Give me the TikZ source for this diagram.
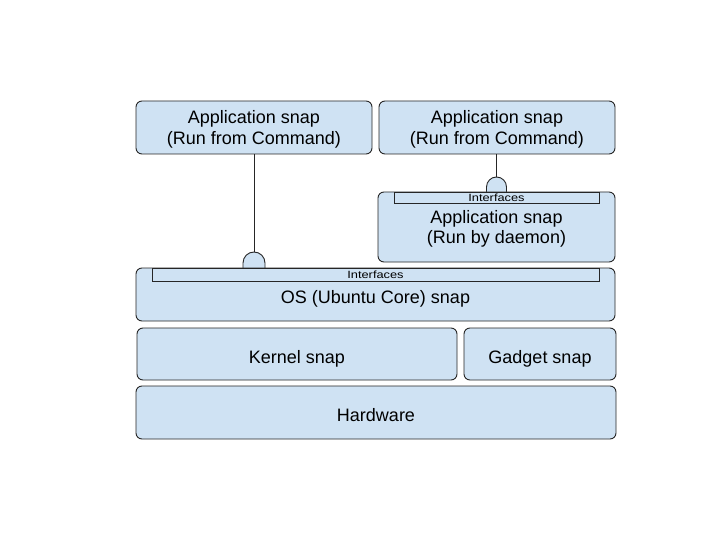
\documentclass[tikz,border=0pt]{standalone}
\usepackage{fontspec}
\setmainfont{Liberation Sans}
\newfontfamily\barfont[FakeStretch=1.22]{Liberation Sans}
\usetikzlibrary{calc}

\definecolor{snapblue}{HTML}{CFE2F3}

\tikzset{
	snapbox/.style={draw=black!85, fill=snapblue, line width=0.9pt, rounded corners=6pt,
		align=center, inner sep=0pt, font=\fontsize{18}{20.5}\selectfont,
		text height=18.4pt, text depth=0pt},
	twoline/.style={text height=33.6pt, text depth=0pt},
	ifbar/.style={draw=black!85, fill=snapblue, line width=0.9pt, inner sep=0pt,
		font=\barfont\fontsize{10.5}{11}\selectfont},
	plug/.style={draw=black!85, fill=snapblue, line width=0.9pt},
	wire/.style={draw=black!85, line width=0.9pt}
}

\begin{document}
\begin{tikzpicture}[x=1pt,y=1pt]
	\useasboundingbox (0,0) rectangle (720,-540);
	% top row
	\node [snapbox, twoline, minimum width=236, minimum height=53] (app1) at (254,-127.5) {Application snap\\(Run from Command)};
	\node [snapbox, twoline, minimum width=236, minimum height=53] (app2) at (497,-127.5) {Application snap\\(Run from Command)};
	% plugs
	\coordinate (osplug) at (254,-268);
	\coordinate (dplug) at (496.5,-192);
	\draw [plug] ($(osplug)+(-11,0)$) -- ++(0,5) arc (180:0:11) -- ++(0,-5);
	\draw [plug] ($(dplug)+(-10,0)$) -- ++(0,5) arc (180:0:10) -- ++(0,-5);
	\coordinate (ostop) at ($(osplug)+(0,16)$);
	\coordinate (dtop) at ($(dplug)+(0,15)$);
	\draw [wire] (app1.south) -- (ostop);
	\draw [wire] (app2.south -| dtop) -- (dtop);
	% daemon
	\node [snapbox, twoline, minimum width=237, minimum height=70] (daemon) at (496.5,-227) {Application snap\\(Run by daemon)};
	\node [ifbar, minimum width=205, minimum height=11, anchor=north] (dbar) at (daemon.north) {Interfaces};
	% os
	\node [snapbox, minimum width=479, minimum height=53] (os) at (375.5,-294.5) {OS (Ubuntu Core) snap};
	\node [ifbar, minimum width=447, minimum height=13, anchor=north] (osbar) at (os.north) {Interfaces};
	% bottom rows
	\node [snapbox, minimum width=320, minimum height=52] (kernel) at (297,-354) {Kernel snap};
	\node [snapbox, minimum width=152, minimum height=52] (gadget) at (540,-354) {Gadget snap};
	\node [snapbox, minimum width=480, minimum height=53] (hw) at (376,-412.5) {Hardware};
\end{tikzpicture}
\end{document}
